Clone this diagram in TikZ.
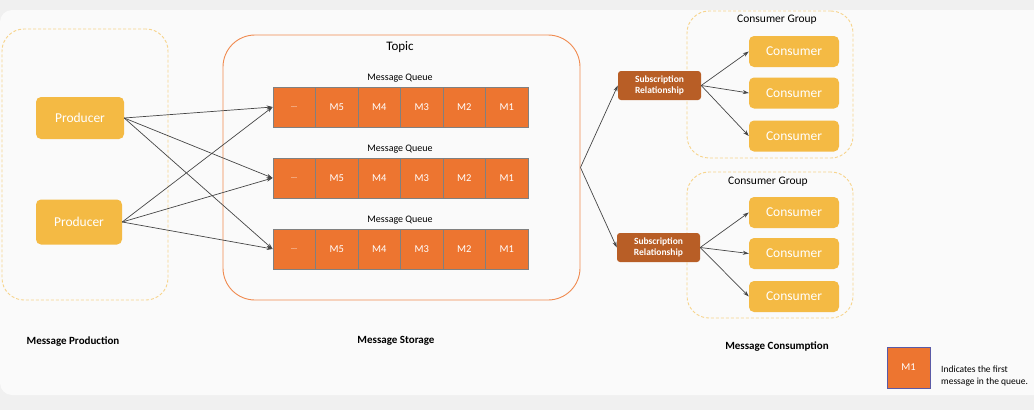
\documentclass[tikz,border=0pt]{standalone}
\usepackage{fontspec}
\setmainfont{Carlito}
\usetikzlibrary{arrows.meta,positioning,calc}
\definecolor{Frame}{RGB}{240,240,240}
\definecolor{Panel}{RGB}{250,250,250}
\definecolor{Gold}{RGB}{244,186,68}
\definecolor{Queue}{RGB}{237,117,48}
\definecolor{Rust}{RGB}{184,94,38}
\definecolor{Dash}{RGB}{247,212,140}
\definecolor{Edge}{RGB}{128,128,128}
\definecolor{Wire}{RGB}{70,70,70}
\tikzset{
  area/.style={draw=Dash, dash pattern=on 3pt off 2pt, rounded corners=22pt, line width=0.9pt},
  actor/.style={fill=Gold, rounded corners=5pt, text=white, inner sep=0pt, font=\fontsize{13.5}{15}\selectfont},
  cell/.style={fill=Queue, draw=Edge, line width=0.8pt, minimum width=42.5pt, minimum height=40pt, text=white, inner sep=0pt, font=\fontsize{10.5}{12}\selectfont},
  subbox/.style={fill=Rust, rounded corners=3pt, text=white, align=center, inner sep=0pt, minimum width=83pt, minimum height=29pt, font=\bfseries\fontsize{9.5}{11}\selectfont},
  flow/.style={draw=Wire, line width=0.7pt, -{Stealth[length=6pt,width=4pt]}},
  caption/.style={font=\bfseries\fontsize{11}{13}\selectfont}
}
\begin{document}
\begin{tikzpicture}[x=1pt,y=-1pt]
  \useasboundingbox (0,0) rectangle (1034,410);
  \fill[Frame] (0,0) rectangle (1034,410);
  \fill[Panel, rounded corners=12pt] (0,10) rectangle (1060,395);

  % production side
  \node[area, minimum width=166pt, minimum height=271pt] (prodarea) at (85,164.5) {};
  \node[actor, minimum width=88pt, minimum height=42pt] (prod1) at (80,118) {Producer};
  \node[actor, minimum width=86pt, minimum height=45pt] (prod2) at (79,222) {Producer};

  % storage
  \node[draw=Queue!85, line width=0.9pt, rounded corners=32pt, minimum width=357pt, minimum height=265pt] (topic) at (401.5,167.5) {};
  \node[font=\fontsize{13}{15}\selectfont] (topiclabel) at (400,47) {Topic};
  \foreach \q/\y in {1/107,2/178,3/249}
  {
    \node[font=\fontsize{10}{12}\selectfont] (mq\q) at (400,\y-29) {Message Queue};
    \foreach \j/\t in {1/{\fontsize{8}{9}\selectfont\ldots},2/M5,3/M4,4/M3,5/M2,6/M1}
      \node[cell] (q\q-\j) at ({273+42.5*(\j-0.5)},\y) {\t};
  }
  \foreach \p in {prod1,prod2}
    \foreach \q in {1,2,3}
      \draw[flow] (\p.east) -- (q\q-1.west);

  % consumption
  \node[area, minimum width=166pt, minimum height=147pt] (group1) at (770,84.5) {};
  \node[area, minimum width=166pt, minimum height=146pt] (group2) at (770,245) {};
  \node[font=\fontsize{11.5}{13}\selectfont] (grouplabel1) at (777,20) {Consumer Group};
  \node[font=\fontsize{11.5}{13}\selectfont] (grouplabel2) at (768,182) {Consumer Group};
  \node[subbox] (sub1) at (659.5,85.5) {Subscription\\Relationship};
  \node[subbox] (sub2) at (658.5,247.5) {Subscription\\Relationship};
  \foreach \g/\a/\b/\c in {1/51.5/93/136,2/212.5/253.5/296.5}
  {
    \foreach \k/\y in {1/\a,2/\b,3/\c}
    {
      \node[actor, minimum width=90pt, minimum height=31pt] (cons\g-\k) at (794,\y) {Consumer};
      \draw[flow] (sub\g.east) -- (cons\g-\k.west);
    }
    \draw[flow] (topic.east) -- (sub\g.west);
  }

  % captions and legend
  \node[caption] (prodcap) at (73,342) {Message Production};
  \node[caption] (storecap) at (396,341) {Message Storage};
  \node[caption] (conscap) at (777,347) {Message Consumption};
  \node[cell, draw=Edge!70!blue, minimum width=43pt, minimum height=41pt] (legend) at (908.5,367.5) {M1};
  \node[anchor=north west, align=left, inner sep=0pt, font=\fontsize{9.5}{12}\selectfont] (legendtext) at (941,366) {Indicates the first\\message in the queue.};
\end{tikzpicture}
\end{document}
